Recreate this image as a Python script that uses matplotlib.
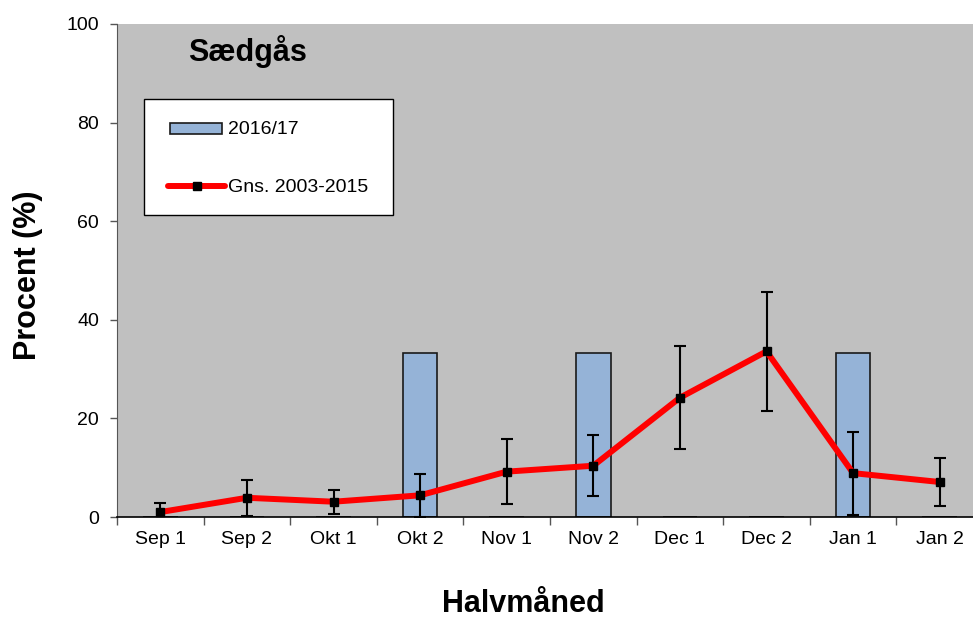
import matplotlib
matplotlib.use("Agg")
import matplotlib.pyplot as plt
from matplotlib.lines import Line2D
from matplotlib.patches import Rectangle

plt.rcParams['font.family'] = ['Liberation Sans', 'DejaVu Sans']

# halvmåneder
labels = ["Sep 1", "Sep 2", "Okt 1", "Okt 2", "Nov 1", "Nov 2", "Dec 1", "Dec 2", "Jan 1", "Jan 2"]
season_2016 = [0, 0, 0, 33.3, 0, 33.3, 0, 0, 33.3, 0]        # 2016/17
mean_0315 = [1.0, 3.9, 3.1, 4.4, 9.2, 10.4, 24.2, 33.6, 8.9, 7.1]  # Gns. 2003-2015
err_0315 = [1.8, 3.7, 2.4, 4.3, 6.6, 6.2, 10.4, 12.1, 8.4, 4.9]

BAR_COL = "#95B3D7"
BG = "#C0C0C0"
W, H = 973, 622


def fx(px):
    return px / W


def fy(py):
    return 1 - py / H


fig = plt.figure(figsize=(W / 100, H / 100), dpi=100)
# plotområdet går lidt ud over højre billedkant i originalen
ax = fig.add_axes([fx(117), fy(517), 866 / W, 493 / H])
ax.set_facecolor(BG)

x = list(range(len(labels)))
ax.bar(x, season_2016, width=0.40, color=BAR_COL, edgecolor="#1a1a1a", lw=1.2, zorder=2)
ax.errorbar(x, mean_0315, yerr=err_0315, fmt="none", ecolor="black", elinewidth=1.5,
            capsize=4.2, capthick=1.5, zorder=3)
ax.plot(x, mean_0315, color="red", lw=4.3, marker="s", ms=6, mfc="black", mec="black", zorder=4)

ax.set_xlim(-0.5, 9.5)
ax.set_ylim(0, 100)
ax.set_yticks(range(0, 101, 20))
ax.set_xticks(x)
ax.set_xticklabels(labels, fontsize=14)
ax.tick_params(axis="x", length=0, pad=10)
ax.set_xticks([i + 0.5 for i in range(-1, 10)], minor=True)
ax.tick_params(axis="x", which="minor", length=6, width=1, color="#555555", direction="out")
ax.tick_params(axis="y", length=5, width=1, color="#555555", labelsize=14, pad=8)
for s in ("top", "right"):
    ax.spines[s].set_visible(False)
ax.spines["left"].set_color("#555555")
ax.spines["bottom"].set_color("black")
ax.spines["bottom"].set_linewidth(1.2)
ax.spines["bottom"].set_zorder(5)

fig.text(fx(28), fy(275), "Procent (%)", fontsize=22, fontweight="bold",
         rotation=90, ha="center", va="center")
fig.text(fx(523), fy(604), "Halvmåned", fontsize=22, fontweight="bold",
         ha="center", va="center")
fig.text(fx(248), fy(52), "Sædgås", fontsize=22, fontweight="bold",
         ha="center", va="center")

# forklaring (tegnet som boks i figuren)
fig.patches.append(Rectangle((fx(144), fy(215)), fx(393) - fx(144), fy(99) - fy(215),
                             transform=fig.transFigure, facecolor="white",
                             edgecolor="black", lw=1.0, zorder=6))
fig.patches.append(Rectangle((fx(170), fy(134)), fx(222) - fx(170), fy(123) - fy(134),
                             transform=fig.transFigure, facecolor=BAR_COL,
                             edgecolor="#1a1a1a", lw=1.2, zorder=7))
fig.lines.append(Line2D([fx(168), fx(225)], [fy(186), fy(186)], transform=fig.transFigure,
                        color="red", lw=4.3, solid_capstyle="round", zorder=7))
fig.lines.append(Line2D([fx(197)], [fy(186)], transform=fig.transFigure, marker="s",
                        ms=5.5, mfc="black", mec="black", zorder=8))
fig.text(fx(228), fy(129), "2016/17", fontsize=14, ha="left", va="center", zorder=8)
fig.text(fx(228), fy(187), "Gns. 2003-2015", fontsize=14, ha="left", va="center", zorder=8)

fig.savefig("out.png", dpi=100)
